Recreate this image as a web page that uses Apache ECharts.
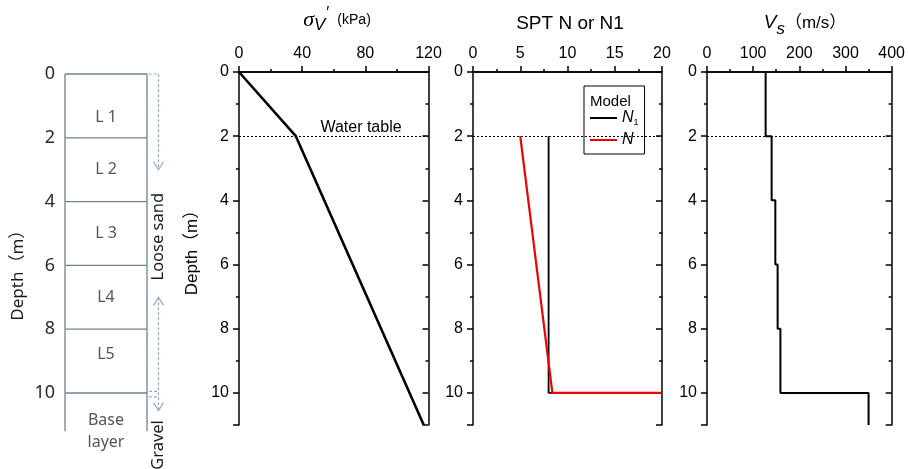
<!DOCTYPE html>
<html><head><meta charset="utf-8">
<script src="https://cdn.jsdelivr.net/npm/echarts@6/dist/echarts.min.js"></script>
<style>html,body{margin:0;padding:0;background:#fff}#c{width:908px;height:469px}</style>
</head><body><div id="c"></div>
<script>
// ---- Soil column (left diagram) ----
const layerTop = [0, 2, 4, 6, 8, 10];
const layerBottom = [2, 4, 6, 8, 10, 11.2];
const layerName = ['L 1', 'L 2', 'L 3', 'L4', 'L5', 'Base\nlayer'];
const layerLabelDepth = [1.35, 3, 5, 7, 8.8, 11.2];
const depthTicks = [0, 2, 4, 6, 8, 10];

// ---- Effective vertical stress sigma_v' (kPa) ----
const sigmaDepth = [0, 2, 11];
const sigmaValue = [0, 36, 117];

// ---- SPT N / N1 ----
const n1Depth = [2, 10, 10];
const n1Value = [8, 8, 20];
const nDepth = [2, 10, 10];
const nValue = [5, 8.4, 20];

// ---- Shear wave velocity Vs (m/s) ----
const vsTop = [0, 2, 4, 6, 8, 10];
const vsBottom = [2, 4, 6, 8, 10, 11];
const vsValue = [127, 140, 148, 153, 159, 350];

const waterTable = 2;

// x-axis tick setup per panel
const xMin = [0, 0, 0];
const xMax = [120, 20, 400];
const xInterval = [40, 5, 100];

const FONT = "'Liberation Sans', Arial, 'Noto Sans CJK JP', sans-serif";
const LFONT = "'Noto Sans', 'Noto Sans CJK KR', sans-serif";

const chart = echarts.init(document.getElementById('c'), null, {renderer: 'canvas'});

const grids = [
  {left: 65, top: 74, width: 82, height: 357.3},
  {left: 239, top: 72, width: 189.5, height: 353},
  {left: 473, top: 72, width: 189, height: 353},
  {left: 707, top: 72, width: 188, height: 353}
];

const xAxis = [], yAxis = [];
xAxis.push({gridIndex: 0, type: 'value', min: 0, max: 1, show: false});
yAxis.push({gridIndex: 0, type: 'value', inverse: true, min: 0, max: 11.2, interval: 2,
  axisLine: {show: false}, axisTick: {show: false}, splitLine: {show: false},
  axisLabel: {fontSize: 18, color: '#2a2a2a', margin: 10, fontFamily: LFONT,
    formatter: v => depthTicks.includes(v) ? String(v) : ''}});

const axLine = {show: true, lineStyle: {color: '#000', width: 1.5}};
for (let k = 0; k < 3; k++) {
  const g = k + 1;
  xAxis.push({gridIndex: g, type: 'value', position: 'top', min: xMin[k], max: xMax[k], interval: xInterval[k],
    axisLine: axLine, splitLine: {show: false},
    axisTick: {show: true, inside: false, length: 5, lineStyle: {color: '#000', width: 1.5}},
    minorTick: {show: true, splitNumber: 2, length: 3, lineStyle: {color: '#000', width: 1.5}},
    axisLabel: {fontSize: 16, color: '#000', margin: 10, fontFamily: FONT}});
  xAxis.push({gridIndex: g, type: 'value', position: 'bottom', min: xMin[k], max: xMax[k], interval: xInterval[k],
    axisLine: axLine, splitLine: {show: false},
    axisTick: {show: true, inside: true, length: 6, lineStyle: {color: '#000', width: 1.5}},
    minorTick: {show: true, splitNumber: 2, length: 3, lineStyle: {color: '#000', width: 1.5}},
    axisLabel: {show: false}});
  yAxis.push(Object.assign({gridIndex: g, type: 'value', position: 'left', inverse: true, min: 0, max: 11, interval: 2,
    axisLine: axLine, splitLine: {show: false},
    axisTick: {show: true, inside: false, length: 6, lineStyle: {color: '#000', width: 1.5}},
    axisLabel: {fontSize: 16, color: '#000', margin: 10, fontFamily: FONT,
      formatter: v => depthTicks.includes(v) ? String(v) : ''}},
    k === 0 ? {name: 'Depth（m）', nameLocation: 'middle', nameGap: 38, nameRotate: 90,
      nameTextStyle: {fontSize: 17, color: '#000', fontFamily: FONT}} : {}));
  yAxis.push({gridIndex: g, type: 'value', position: 'left', inverse: true, min: 0, max: 11, interval: 1,
    axisLine: {show: false}, splitLine: {show: false},
    axisTick: {show: true, inside: false, length: 3, lineStyle: {color: '#000', width: 1.5}},
    axisLabel: {show: false}});
  yAxis.push({gridIndex: g, type: 'value', position: 'right', inverse: true, min: 0, max: 11, interval: 2,
    axisLine: axLine, splitLine: {show: false},
    axisTick: {show: true, inside: true, length: 6, lineStyle: {color: '#000', width: 1.5}},
    axisLabel: {show: false}});
  yAxis.push({gridIndex: g, type: 'value', position: 'right', inverse: true, min: 0, max: 11, interval: 1,
    axisLine: {show: false}, splitLine: {show: false},
    axisTick: {show: true, inside: true, length: 3, lineStyle: {color: '#000', width: 1.5}},
    axisLabel: {show: false}});
}

const wtLine = {silent: true, symbol: ['none', 'none'], label: {show: false},
  lineStyle: {type: [2, 2], color: '#000', width: 1}, data: [{yAxis: waterTable}]};

const vsPts = [];
vsValue.forEach((v, i) => { vsPts.push([v, vsTop[i]]); vsPts.push([v, vsBottom[i]]); });

const colStroke = '#6d8496';
const arrowCol = '#8eaec6';

const series = [
  {type: 'custom', name: 'layers', xAxisIndex: 0, yAxisIndex: 0, clip: false, silent: true,
    data: layerTop.map((t, i) => [t, layerBottom[i], layerLabelDepth[i]]),
    renderItem: (params, api) => {
      const top = api.value(0), bot = api.value(1), ld = api.value(2);
      const p0 = api.coord([0, top]), p1 = api.coord([1, bot]), pl = api.coord([0.5, ld]);
      const st = {stroke: colStroke, lineWidth: 1.3};
      return {type: 'group', children: [
        {type: 'line', shape: {x1: p0[0], y1: p0[1], x2: p1[0], y2: p0[1]}, style: st},
        {type: 'line', shape: {x1: p0[0], y1: p0[1], x2: p0[0], y2: p1[1]}, style: st},
        {type: 'line', shape: {x1: p1[0], y1: p0[1], x2: p1[0], y2: p1[1]}, style: st},
        {type: 'text', x: pl[0], y: pl[1], style: {text: layerName[params.dataIndex], align: 'center',
          verticalAlign: 'middle', fontSize: 16, lineHeight: 22, fill: '#555', fontFamily: LFONT}}
      ]};
    }},
  {type: 'custom', name: 'annot', xAxisIndex: 0, yAxisIndex: 0, clip: false, silent: true,
    data: [[0, 0]],
    renderItem: (params, api) => {
      const xd = 1.14;
      const c = (x, y) => api.coord([x, y]);
      const dash = {stroke: arrowCol, lineWidth: 1.2, lineDash: [3, 2], fill: null};
      const sol = {stroke: arrowCol, lineWidth: 1.2, fill: null};
      const a1 = c(xd, 3.0), a2 = c(xd, 7.0), a3 = c(xd, 10.55);
      const e1 = c(1, 9.95), e2 = c(1, 10.12), ex = c(xd, 0)[0];
      const ls = c(xd, 5.1), gv = c(xd, 11.63), dp = c(-0.573, 6.18);
      return {type: 'group', children: [
        {type: 'polyline', shape: {points: [c(1.02, 0), c(xd, 0), a1]}, style: dash},
        {type: 'polyline', shape: {points: [[a1[0] - 5, a1[1] - 8], a1, [a1[0] + 5, a1[1] - 8]]}, style: sol},
        {type: 'polyline', shape: {points: [a2, a3]}, style: dash},
        {type: 'polyline', shape: {points: [[a2[0] - 5, a2[1] + 8], a2, [a2[0] + 5, a2[1] + 8]]}, style: sol},
        {type: 'polyline', shape: {points: [[a3[0] - 5, a3[1] - 8], a3, [a3[0] + 5, a3[1] - 8]]}, style: sol},
        {type: 'line', shape: {x1: e1[0] + 2, y1: e1[1], x2: ex, y2: e1[1]}, style: dash},
        {type: 'line', shape: {x1: e2[0] + 2, y1: e2[1], x2: ex, y2: e2[1]}, style: dash},
        {type: 'text', x: ls[0], y: ls[1], rotation: Math.PI / 2, style: {text: 'Loose sand', align: 'center',
          verticalAlign: 'middle', fontSize: 16.5, fill: '#1a1a1a', fontFamily: LFONT}},
        {type: 'text', x: gv[0], y: gv[1], rotation: Math.PI / 2, style: {text: 'Gravel', align: 'center',
          verticalAlign: 'middle', fontSize: 16.5, fill: '#1a1a1a', fontFamily: LFONT}},
        {type: 'text', x: dp[0], y: dp[1], rotation: Math.PI / 2, style: {text: 'Depth（m）', align: 'center',
          verticalAlign: 'middle', fontSize: 17, fill: '#1a1a1a', fontFamily: LFONT}}
      ]};
    }},
  {type: 'line', name: 'sigma', xAxisIndex: 1, yAxisIndex: 1, symbol: 'none', silent: true,
    lineStyle: {color: '#000', width: 2.6},
    data: sigmaValue.map((v, i) => [v, sigmaDepth[i]]), markLine: wtLine},
  {type: 'line', name: 'N1', xAxisIndex: 3, yAxisIndex: 5, symbol: 'none', silent: true, color: '#000',
    lineStyle: {color: '#000', width: 1.8},
    data: n1Value.map((v, i) => [v, n1Depth[i]]), markLine: wtLine},
  {type: 'line', name: 'N', xAxisIndex: 3, yAxisIndex: 5, symbol: 'none', silent: true, color: '#f00000',
    lineStyle: {color: '#f00000', width: 2.2},
    data: nValue.map((v, i) => [v, nDepth[i]])},
  {type: 'line', name: 'Vs', xAxisIndex: 5, yAxisIndex: 9, symbol: 'none', silent: true,
    lineStyle: {color: '#000', width: 2},
    data: vsPts, markLine: wtLine}
];

const option = {
  animation: false,
  backgroundColor: '#fff',
  grid: grids,
  xAxis: xAxis,
  yAxis: yAxis,
  series: series,
  legend: {
    data: ['N1', 'N'], orient: 'vertical', left: 584, top: 86, padding: [23, 6, 5, 6],
    borderColor: '#000', borderWidth: 1, backgroundColor: '#fff',
    itemWidth: 27, itemHeight: 2, itemGap: 4, itemTextGap: 6, icon: 'rect', selectedMode: false,
    formatter: name => name === 'N1' ? '{i|N}{sub|1}' : '{i|N}',
    textStyle: {color: '#000', lineHeight: 18, rich: {
      i: {fontSize: 16, fontStyle: 'italic', fontFamily: FONT, lineHeight: 18},
      sub: {fontSize: 9, fontFamily: FONT, lineHeight: 10, verticalAlign: 'bottom'}
    }}
  },
  graphic: [
    {type: 'text', x: 337, y: 20, style: {text: '{s|σ}{v|V}{p|′}{u|(kPa)}', align: 'center', verticalAlign: 'middle',
      rich: {
        s: {fontSize: 22, fontStyle: 'italic', fontFamily: "'Liberation Serif', serif", lineHeight: 28, verticalAlign: 'middle'},
        v: {fontSize: 17, fontStyle: 'italic', fontFamily: FONT, lineHeight: 16, verticalAlign: 'bottom'},
        p: {fontSize: 16, fontFamily: FONT, lineHeight: 16, verticalAlign: 'top', padding: [0, 8, 0, 1]},
        u: {fontSize: 14, fontFamily: FONT, lineHeight: 28, verticalAlign: 'middle'}
      }}},
    {type: 'text', x: 570, y: 24, style: {text: 'SPT N or N1', align: 'center', verticalAlign: 'middle',
      fontSize: 19, fontFamily: FONT, fill: '#000'}},
    {type: 'text', x: 805, y: 23, style: {text: '{v|V}{s|s}{u|（m/s）}', align: 'center', verticalAlign: 'middle',
      rich: {
        v: {fontSize: 19, fontStyle: 'italic', fontFamily: FONT, lineHeight: 30, verticalAlign: 'middle'},
        s: {fontSize: 17, fontStyle: 'italic', fontFamily: FONT, lineHeight: 18, verticalAlign: 'bottom'},
        u: {fontSize: 17, fontFamily: FONT, lineHeight: 30, verticalAlign: 'middle'}
      }}},
    {type: 'text', z: 100, zlevel: 0, x: 590, y: 102, style: {text: 'Model', align: 'left', verticalAlign: 'middle',
      fontSize: 15, fontFamily: FONT, fill: '#000'}},
    {type: 'text', x: 361, y: 128, style: {text: 'Water table', align: 'center', verticalAlign: 'middle',
      fontSize: 16, fontFamily: FONT, fill: '#000'}}
  ]
};
chart.setOption(option);
</script></body></html>
